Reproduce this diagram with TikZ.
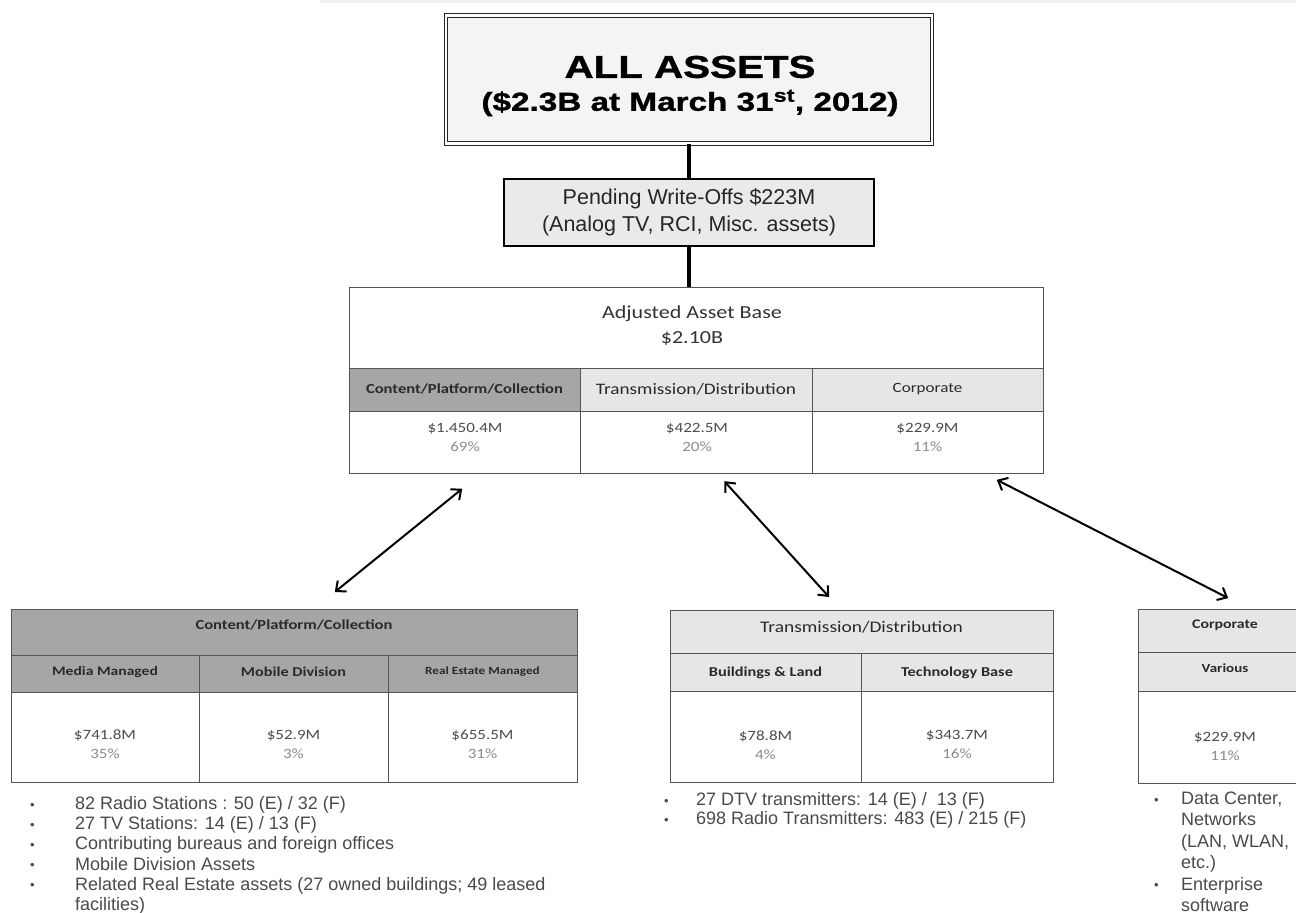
\documentclass[tikz,border=0pt]{standalone}
\usepackage{fontspec}
\setmainfont{Liberation Sans}
\newfontfamily\calfont{Carlito}[FakeStretch=1.2]
\newfontfamily\widefont{Liberation Sans}[FakeStretch=1.28, BoldFeatures={FakeBold=1.2}]
\usetikzlibrary{arrows.meta,calc}
\definecolor{darkhdr}{HTML}{A6A6A6}
\definecolor{lighthdr}{HTML}{E6E6E6}
\definecolor{bord}{HTML}{555555}
\definecolor{hdrtxt}{HTML}{2A2A2A}
\definecolor{valcol}{HTML}{4D4D4D}
\definecolor{pctcol}{HTML}{8C8C8C}
\definecolor{bulcol}{HTML}{4A4A4A}
\definecolor{topfill}{HTML}{F4F4F4}
\definecolor{pendfill}{HTML}{EAEAEA}
\definecolor{stripcol}{HTML}{F0F0F0}
\newcommand\mkcell[6]{\node[cellbox, fill=#6, minimum width={#4pt-#2pt}, minimum height={#5pt-#3pt}] (#1) at ({(#2+#4)/2},{(#3+#5)/2}) {};}
\newcommand\bdot{\raisebox{0.5pt}{\fontsize{13}{13}\selectfont\textbullet}}
\tikzset{
  cellbox/.style={draw=bord, line width=1pt, inner sep=0pt, outer sep=0pt},
  topbox/.style={draw=black!85, double=white, double distance=2.2pt, line width=1.3pt, fill=topfill, minimum width=486pt, minimum height=128pt, inner sep=0pt},
  pendbox/.style={draw=black, line width=2.2pt, fill=pendfill, minimum width=370pt, minimum height=67pt, inner sep=0pt, align=center, text=black!85, font=\fontsize{21.5}{27}\selectfont},
  toptxt/.style={inner sep=0pt, text=black},
  tx/.style={inner sep=0pt, align=center, text=hdrtxt},
  valnode/.style={inner sep=0pt, align=center, text=valcol, font=\calfont\fontsize{14.2}{19}\selectfont},
  bul/.style={inner sep=0pt, anchor=base west, text=bulcol},
  conn/.style={draw=black, line width=3.2pt},
  arr/.style={draw=black, line width=2pt, {Straight Barb[length=8pt,width=14pt]}-{Straight Barb[length=8pt,width=14pt]}}
}
\begin{document}
\begin{tikzpicture}[x=1pt,y=-1pt]
\useasboundingbox (0,0) rectangle (1296,913);
\clip (0,0) rectangle (1296,913);
\fill[white] (0,0) rectangle (1296,913);
\fill[stripcol] (320,0) rectangle (1296,3);

% top box
\node[topbox] (top) at (689,79.5) {};
\node[toptxt, font=\widefont\bfseries\fontsize{31.5}{34}\selectfont] (toptitle) at (690,67) {ALL ASSETS};
\node[toptxt, font=\widefont\bfseries\fontsize{26}{30}\selectfont] (topsub) at (690,103) {(\$2.3B at March 31\textsuperscript{st}, 2012)};

% pending
\node[pendbox] (pend) at (689,212.5) {Pending Write-Offs \$223M\\(Analog TV, RCI, Misc. assets)};

% adjusted table
\mkcell{att}{349}{287}{1043}{368}{white}
\mkcell{ath1}{349}{368}{580}{411}{darkhdr}
\mkcell{ath2}{580}{368}{812}{411}{lighthdr}
\mkcell{ath3}{812}{368}{1043}{411}{lighthdr}
\mkcell{atv1}{349}{411}{580}{473}{white}
\mkcell{atv2}{580}{411}{812}{473}{white}
\mkcell{atv3}{812}{411}{1043}{473}{white}
\node[tx, text=black!80, font=\calfont\fontsize{18.4}{25}\selectfont] (atttxt) at (692,326) {Adjusted Asset Base\\\$2.10B};
\node[tx, font=\calfont\bfseries\fontsize{13.8}{16}\selectfont] (ath1t) at (464.5,389) {Content/Platform/Collection};
\node[tx, font=\calfont\fontsize{16}{18}\selectfont] (ath2t) at (696,389) {Transmission/Distribution};
\node[tx, font=\calfont\fontsize{14.2}{16}\selectfont] (ath3t) at (927.5,389) {Corporate};
\node[valnode] (atv1t) at (465,437) {\$1.450.4M\\{\color{pctcol}69\%}};
\node[valnode] (atv2t) at (697,437) {\$422.5M\\{\color{pctcol}20\%}};
\node[valnode] (atv3t) at (927.5,437) {\$229.9M\\{\color{pctcol}11\%}};

% left table
\mkcell{lth1}{11}{609}{577}{655}{darkhdr}
\mkcell{lth2a}{11}{655}{199}{692}{darkhdr}
\mkcell{lth2b}{199}{655}{388}{692}{darkhdr}
\mkcell{lth2c}{388}{655}{577}{692}{darkhdr}
\mkcell{ltva}{11}{692}{199}{782}{white}
\mkcell{ltvb}{199}{692}{388}{782}{white}
\mkcell{ltvc}{388}{692}{577}{782}{white}
\node[tx, font=\calfont\bfseries\fontsize{13.8}{16}\selectfont] (lth1t) at (294,625) {Content/Platform/Collection};
\node[tx, font=\calfont\bfseries\fontsize{13}{16}\selectfont] (lth2at) at (105,672) {Media Managed};
\node[tx, font=\calfont\bfseries\fontsize{13.5}{16}\selectfont] (lth2bt) at (293.5,672) {Mobile Division};
\node[tx, font=\calfont\bfseries\fontsize{11}{14}\selectfont] (lth2ct) at (482.5,672) {Real Estate Managed};
\node[valnode] (ltvat) at (105,744.5) {\$741.8M\\{\color{pctcol}35\%}};
\node[valnode] (ltvbt) at (293.5,744.5) {\$52.9M\\{\color{pctcol}3\%}};
\node[valnode] (ltvct) at (482.5,744.5) {\$655.5M\\{\color{pctcol}31\%}};

% middle table
\mkcell{mth1}{670}{610}{1053}{653}{lighthdr}
\mkcell{mth2a}{670}{653}{861}{691}{lighthdr}
\mkcell{mth2b}{861}{653}{1053}{691}{lighthdr}
\mkcell{mtva}{670}{691}{861}{782}{white}
\mkcell{mtvb}{861}{691}{1053}{782}{white}
\node[tx, font=\calfont\fontsize{16.2}{18}\selectfont] (mth1t) at (861.5,627) {Transmission/Distribution};
\node[tx, font=\calfont\bfseries\fontsize{13.6}{16}\selectfont] (mth2at) at (765.5,673) {Buildings \& Land};
\node[tx, font=\calfont\bfseries\fontsize{13.6}{16}\selectfont] (mth2bt) at (957,673) {Technology Base};
\node[valnode] (mtvat) at (765.5,745.5) {\$78.8M\\{\color{pctcol}4\%}};
\node[valnode] (mtvbt) at (957,744) {\$343.7M\\{\color{pctcol}16\%}};

% right table
\mkcell{rth1}{1138}{609}{1312}{652}{lighthdr}
\mkcell{rth2}{1138}{652}{1312}{691}{lighthdr}
\mkcell{rtv}{1138}{691}{1312}{783}{white}
\node[tx, font=\calfont\bfseries\fontsize{13.2}{16}\selectfont] (rth1t) at (1225,625) {Corporate};
\node[tx, font=\calfont\bfseries\fontsize{12.5}{16}\selectfont] (rth2t) at (1225,668) {Various};
\node[valnode] (rtvt) at (1225,746) {\$229.9M\\{\color{pctcol}11\%}};

% connectors
\draw[conn] (top.south) -- (pend.north);
\draw[conn] (pend.south) -- (pend.south |- att.north);
\draw[arr, shorten <=25pt, shorten >=27pt] ($(atv1.south west)!0.574!(atv1.south east)$) -- ($(lth1.north west)!0.535!(lth1.north east)$);
\draw[arr, shorten <=11pt, shorten >=17.5pt] ($(atv2.south west)!0.59!(atv2.south east)$) -- ($(mth1.north west)!0.446!(mth1.north east)$);
\draw[arr, shorten <=15pt, shorten >=24pt] ($(atv3.south west)!0.742!(atv3.south east)$) -- ($(rth1.north west)!0.641!(rth1.north east)$);

% bullet lists
\node[bul, font=\fontsize{18}{20.2}\selectfont] (ltlist) at (30,809.5) {\begin{tabular}[t]{@{}p{45pt}@{}l@{}}
\bdot & 82 Radio Stations : 50 (E) / 32 (F)\\
\bdot & 27 TV Stations: 14 (E) / 13 (F)\\
\bdot & Contributing bureaus and foreign offices\\
\bdot & Mobile Division Assets\\
\bdot & Related Real Estate assets (27 owned buildings; 49 leased\\
 & facilities)
\end{tabular}};
\node[bul, font=\fontsize{18}{19}\selectfont] (mtlist) at (664,805.5) {\begin{tabular}[t]{@{}p{32pt}@{}l@{}}
\bdot & 27 DTV transmitters: 14 (E) /\ \ 13 (F)\\
\bdot & 698 Radio Transmitters: 483 (E) / 215 (F)
\end{tabular}};
\node[bul, font=\fontsize{18}{21.4}\selectfont] (rtlist) at (1154,804.5) {\begin{tabular}[t]{@{}p{27pt}@{}l@{}}
\bdot & Data Center,\\
 & Networks\\
 & (LAN, WLAN,\\
 & etc.)\\
\bdot & Enterprise\\
 & software
\end{tabular}};
\end{tikzpicture}
\end{document}
